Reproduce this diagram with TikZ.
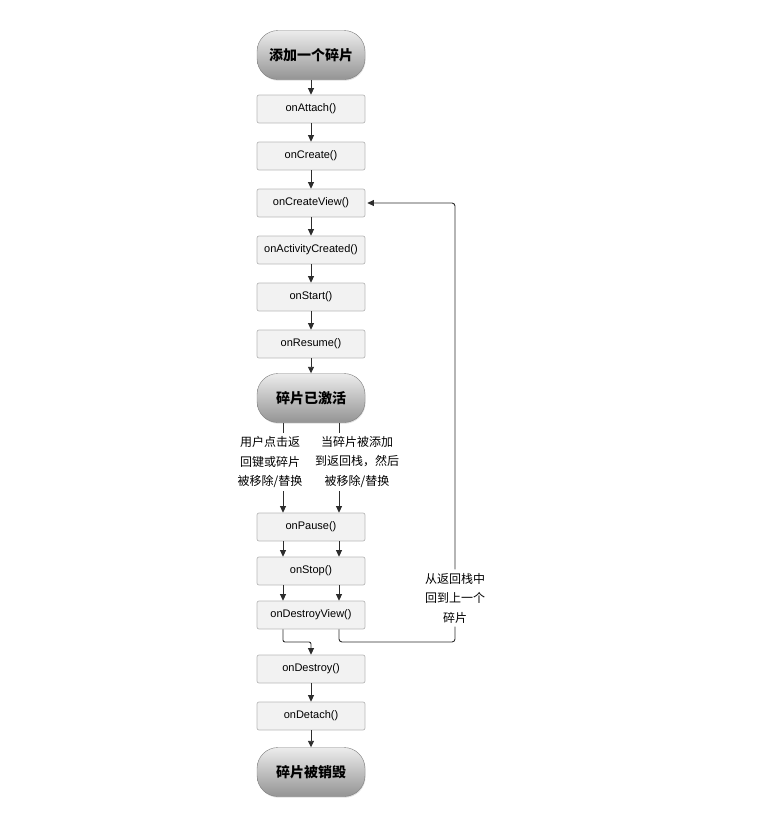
\documentclass[tikz,border=0pt]{standalone}
\usepackage{fontspec}
\setmainfont{Liberation Sans}
\newfontfamily\cjk{Noto Sans CJK SC}
\usetikzlibrary{positioning, arrows.meta, calc, shadows}
\definecolor{lineD}{RGB}{45, 45, 45}
\definecolor{boxF}{RGB}{242, 242, 242}
\definecolor{boxD}{RGB}{185, 185, 185}
\definecolor{capT}{RGB}{236, 236, 236}
\definecolor{capB}{RGB}{148, 148, 148}
\definecolor{capD}{RGB}{125, 125, 125}
\tikzset{
  stadium/.style={rectangle, rounded corners=21pt, draw=capD, top color=capT,
              bottom color=capB, drop shadow={opacity=0.25, shadow xshift=0.6pt,
              shadow yshift=-1.2pt}, minimum width=108pt, minimum height=49pt,
              inner sep=0pt, font=\cjk\bfseries\fontsize{14}{16}\selectfont},
  call/.style={rectangle, rounded corners=2pt, draw=boxD, fill=boxF,
               line width=0.7pt, minimum width=108pt, minimum height=28pt,
               inner sep=0pt, font=\fontsize{11}{13}\selectfont},
  note/.style={align=center, font=\cjk\fontsize{12}{19.5}\selectfont},
  arr/.style={-{Triangle[length=6.5pt, width=6pt]}, lineD, line width=0.9pt},
  ln/.style={lineD, line width=0.9pt},
}
\begin{document}
\begin{tikzpicture}[x=1pt, y=-1pt]
  \useasboundingbox (0,0) rectangle (774,814);
  % lifecycle column
  \node[stadium] (add) at (311,55) {添加一个碎片};
  \node[call] (attach) at (311,109) {onAttach()};
  \node[call] (create) at (311,156) {onCreate()};
  \node[call] (cview) at (311,203) {onCreateView()};
  \node[call] (actcr) at (311,250) {onActivityCreated()};
  \node[call] (start) at (311,297) {onStart()};
  \node[call] (resume) at (311,344) {onResume()};
  \node[stadium] (active) at (311,398) {碎片已激活};
  \node[call] (pause) at (311,527) {onPause()};
  \node[call] (stop) at (311,571) {onStop()};
  \node[call] (dview) at (311,615) {onDestroyView()};
  \node[call] (destroy) at (311,669) {onDestroy()};
  \node[call] (detach) at (311,716) {onDetach()};
  \node[stadium] (gone) at (311,772) {碎片被销毁};

  % branch notes
  \node[note] (userback) at (270,462) {用户点击返\\回键或碎片\\被移除/替换};
  \node[note] (backstack) at (357,462) {当碎片被添加\\到返回栈，然后\\被移除/替换};
  \node[note] (popback) at (455,598) {从返回栈中\\回到上一个\\碎片};

  \coordinate (lx) at (283,0);
  \coordinate (rx) at (339,0);
  \coordinate (mid) at ($(dview.south)!0.5!(destroy.north)$);

  \draw[arr] (add) -- (attach);
  \draw[arr] (attach) -- (create);
  \draw[arr] (create) -- (cview);
  \draw[arr] (cview) -- (actcr);
  \draw[arr] (actcr) -- (start);
  \draw[arr] (start) -- (resume);
  \draw[arr] (resume) -- (active);

  \draw[ln] (active.south -| lx) -- (userback.north -| lx);
  \draw[ln] (active.south -| rx) -- (backstack.north -| rx);
  \draw[arr] (userback.south -| lx) -- (pause.north -| lx);
  \draw[arr] (backstack.south -| rx) -- (pause.north -| rx);
  \draw[arr] (pause.south -| lx) -- (stop.north -| lx);
  \draw[arr] (pause.south -| rx) -- (stop.north -| rx);
  \draw[arr] (stop.south -| lx) -- (dview.north -| lx);
  \draw[arr] (stop.south -| rx) -- (dview.north -| rx);

  \draw[arr, rounded corners=2pt] (dview.south -| lx) |- (mid) -- (destroy.north);
  \draw[arr] (destroy) -- (detach);
  \draw[arr] (detach) -- (gone);

  % back to the previous fragment
  \draw[ln, rounded corners=3pt] (dview.south -| rx) |- (mid -| popback) -- (popback.south);
  \draw[arr, rounded corners=3pt, shorten >=2pt] (popback.north) |- (cview.east);
\end{tikzpicture}
\end{document}
